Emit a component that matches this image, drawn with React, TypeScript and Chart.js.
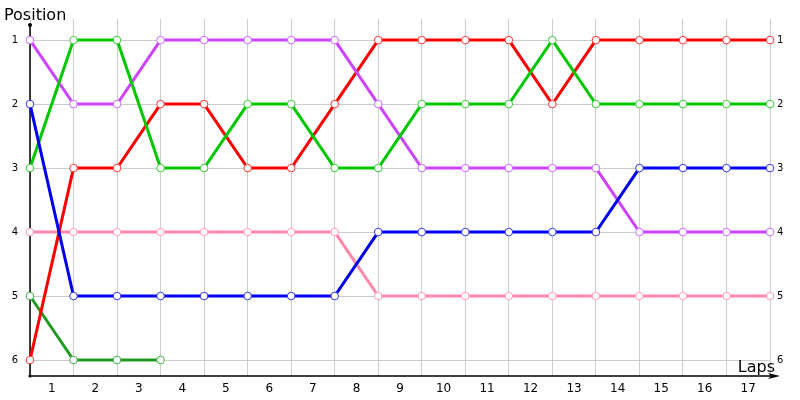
import React, { useEffect, useRef } from "react";
import { Chart, registerables } from "chart.js";

Chart.register(...registerables);

const lapLabels = ["1","2","3","4","5","6","7","8","9","10","11","12","13","14","15","16","17"];
const lapPoints = [0,1,2,3,4,5,6,7,8,9,10,11,12,13,14,15,16,17];
const positionTicks = [1, 2, 3, 4, 5, 6];

const redPos = [6,3,3,2,2,3,3,2,1,1,1,1,2,1,1,1,1,1];
const greenPos = [3,1,1,3,3,2,2,3,3,2,2,2,1,2,2,2,2,2];
const purplePos = [1,2,2,1,1,1,1,1,2,3,3,3,3,3,4,4,4,4];
const bluePos = [2,5,5,5,5,5,5,5,4,4,4,4,4,4,3,3,3,3];
const pinkPos = [4,4,4,4,4,4,4,4,5,5,5,5,5,5,5,5,5,5];
const darkGreenPos = [5,6,6,6];

const mk = (vals: number[], color: string, pointColor: string) => ({
  data: vals.map((v, i) => ({ x: lapPoints[i], y: v })),
  borderColor: color,
  backgroundColor: "#ffffff",
  pointBorderColor: pointColor,
  pointBackgroundColor: "#ffffff",
  borderWidth: 3,
  pointRadius: 3.8,
  pointBorderWidth: 1,
  tension: 0,
  clip: false,
  xAxisID: "x",
  yAxisID: "y",
});

const decorations = {
  id: "decorations",
  beforeDatasetsDraw(chart: any) {
    const { ctx, chartArea } = chart;
    const { left, right, bottom } = chartArea;
    ctx.save();
    ctx.strokeStyle = "#000";
    ctx.fillStyle = "#000";
    ctx.lineWidth = 1.5;
    ctx.beginPath();
    ctx.moveTo(left, 25);
    ctx.lineTo(left, bottom);
    ctx.lineTo(right + 6, bottom);
    ctx.stroke();
    ctx.beginPath();
    ctx.arc(left, 25, 2, 0, Math.PI * 2);
    ctx.fill();
    ctx.beginPath();
    ctx.arc(left, bottom, 1.5, 0, Math.PI * 2);
    ctx.fill();
    ctx.beginPath();
    ctx.moveTo(right + 10, bottom);
    ctx.lineTo(right - 2, bottom - 3);
    ctx.lineTo(right + 1, bottom);
    ctx.lineTo(right - 2, bottom + 3);
    ctx.closePath();
    ctx.fill();
    ctx.restore();
  },
  afterDraw(chart: any) {
    const { ctx, chartArea } = chart;
    const { right } = chartArea;
    ctx.save();
    ctx.fillStyle = "#000";
    ctx.font = "16px 'DejaVu Sans'";
    ctx.textBaseline = "alphabetic";
    ctx.textAlign = "left";
    ctx.fillText("Position", 4, 20);
    ctx.textAlign = "right";
    ctx.fillText("Laps", right + 5, 372);
    ctx.restore();
  },
};

export default function App() {
  const ref = useRef<HTMLCanvasElement>(null);
  useEffect(() => {
    if (!ref.current) return;
    const chart = new Chart(ref.current, {
      type: "line",
      data: {
        labels: lapLabels,
        datasets: [
          mk(bluePos, "#0000ee", "#3333ee"),
          mk(greenPos, "#00c800", "#33cc33"),
          mk(purplePos, "#cc44ff", "#cc66ff"),
          mk(redPos, "#ff0000", "#ff3333"),
          mk(pinkPos, "#ff88aa", "#ff99bb"),
          mk(darkGreenPos, "#229922", "#44aa44"),
        ] as any,
      },
      options: {
        animation: false,
        responsive: false,
        maintainAspectRatio: false,
        layout: { padding: { top: 19, left: 0, right: 0, bottom: 0 } },
        plugins: { legend: { display: false }, tooltip: { enabled: false } },
        scales: {
          x: {
            type: "linear",
            min: 0,
            max: 17,
            position: "bottom",
            ticks: { display: false, stepSize: 1 },
            grid: { color: "#cccccc", lineWidth: 1, drawTicks: false },
            border: { display: false },
            afterFit: (s: any) => { s.height = 0; },
          },
          laps: {
            type: "category",
            labels: lapLabels,
            offset: true,
            position: "bottom",
            grid: { display: false, drawTicks: false },
            border: { display: false },
            ticks: { color: "#000", font: { family: "'DejaVu Sans'", size: 12 }, padding: 6, maxRotation: 0, autoSkip: false },
            afterFit: (s: any) => { s.height = 24; },
          },
          y: {
            type: "linear",
            reverse: true,
            min: 0.67,
            max: 6.25,
            position: "left",
            afterBuildTicks: (s: any) => { s.ticks = positionTicks.map((v) => ({ value: v })); },
            ticks: { color: "#000", font: { family: "'DejaVu Sans'", size: 10 }, padding: 12 },
            grid: { color: "#cccccc", lineWidth: 1, drawTicks: false },
            border: { display: false },
            afterFit: (s: any) => { s.width = 30; },
          },
          y2: {
            type: "linear",
            reverse: true,
            min: 0.67,
            max: 6.25,
            position: "right",
            afterBuildTicks: (s: any) => { s.ticks = positionTicks.map((v) => ({ value: v })); },
            ticks: { color: "#000", font: { family: "'DejaVu Sans'", size: 10 }, padding: 7 },
            grid: { display: false, drawTicks: false },
            border: { display: false },
            afterFit: (s: any) => { s.width = 30; },
          },
        },
      } as any,
      plugins: [decorations],
    });
    return () => chart.destroy();
  }, []);
  return (
    <div style={{ position: "fixed", left: 0, top: 0, width: 800, height: 400, background: "#fff" }}>
      <canvas ref={ref} width={800} height={400} />
    </div>
  );
}
